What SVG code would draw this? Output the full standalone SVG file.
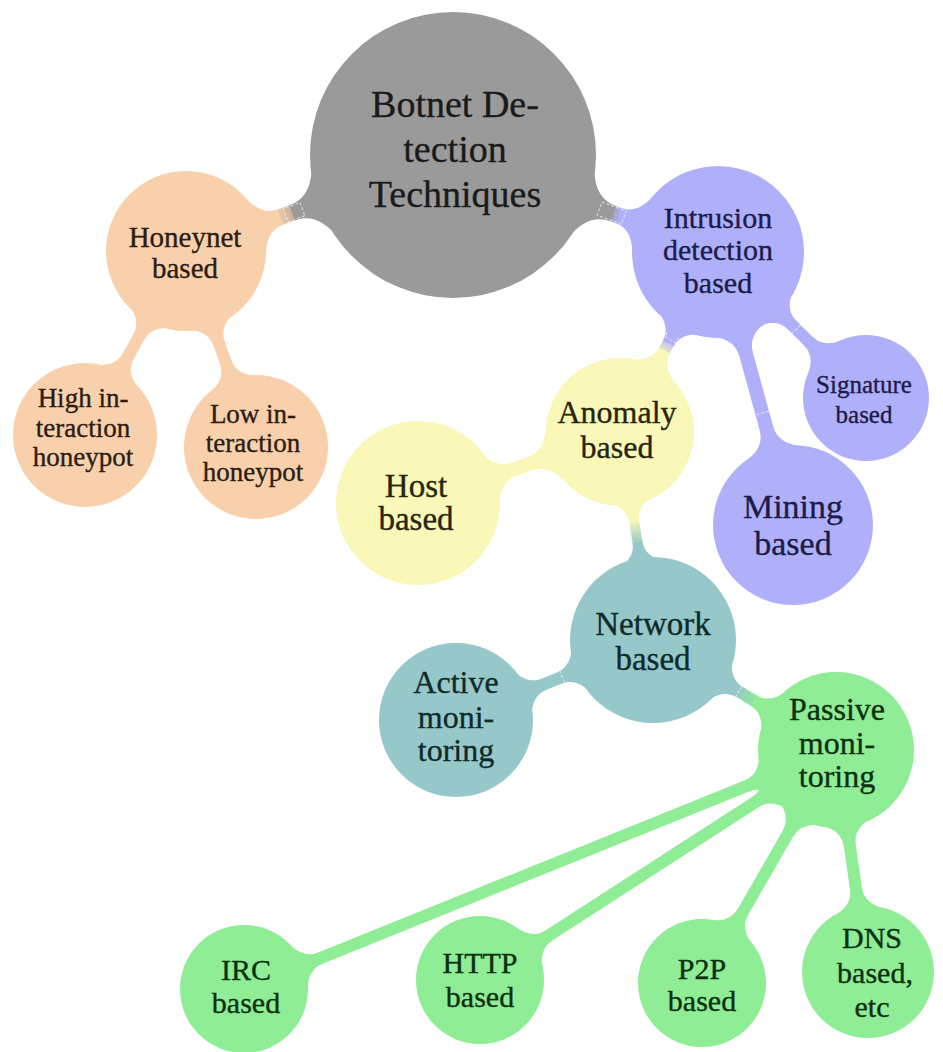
<svg xmlns="http://www.w3.org/2000/svg" width="943" height="1052" viewBox="0 0 943 1052">
<defs>
<style>
.t{font-family:"Liberation Serif","Times New Roman",serif;text-anchor:middle;stroke-width:0.35}
.gray{fill:#9a9a9a}.peach{fill:#f9d0ac}.purple{fill:#b0b0fa}.yellow{fill:#faf8b9}.teal{fill:#96c8ca}.green{fill:#8fed96}
.dash{fill:none;stroke:#fff;stroke-width:1;stroke-dasharray:3 2;opacity:.7}
</style>
<path id="fA" d="M-5,-34 C1.5,-18.4 11.2,-8 28,-8 L28,8 C11.2,8 1.5,18.4 -5,34 Z"/>
<path id="fB" d="M-5,-28 C0,-16 8,-8 20,-8 L20,8 C8,8 0,16 -5,28 Z"/>
<path id="fC" d="M-5,-24 C-0.5,-13.2 7.2,-6 18,-6 L18,6 C7.2,6 -0.5,13.2 -5,24 Z"/>
<path id="fD" d="M-5,-26 C-0.25,-14.6 8,-7 20,-7 L20,7 C8,7 -0.25,14.6 -5,26 Z"/>
<path id="fE" d="M-5,-20 C-1.25,-11 6.4,-5 16,-5 L16,5 C6.4,5 -1.25,11 -5,20 Z"/>
<linearGradient id="gRH" gradientUnits="userSpaceOnUse" x1="158" y1="0" x2="188" y2="0"><stop offset="0" stop-color="#9a9a9a"/><stop offset="1" stop-color="#f9d0ac"/></linearGradient>
<linearGradient id="gRI" gradientUnits="userSpaceOnUse" x1="156" y1="0" x2="183" y2="0"><stop offset="0" stop-color="#9a9a9a"/><stop offset="1" stop-color="#b0b0fa"/></linearGradient>
<linearGradient id="gIA" gradientUnits="userSpaceOnUse" x1="97" y1="0" x2="119" y2="0"><stop offset="0" stop-color="#b0b0fa"/><stop offset="1" stop-color="#faf8b9"/></linearGradient>
<linearGradient id="gAN" gradientUnits="userSpaceOnUse" x1="88" y1="0" x2="114" y2="0"><stop offset="0" stop-color="#faf8b9"/><stop offset="1" stop-color="#96c8ca"/></linearGradient>
<linearGradient id="gNP" gradientUnits="userSpaceOnUse" x1="96" y1="0" x2="122" y2="0"><stop offset="0" stop-color="#96c8ca"/><stop offset="1" stop-color="#8fed96"/></linearGradient>
</defs>
<rect width="943" height="1052" fill="#fff"/>
<g id="connectors">
 <g transform="translate(453,155) rotate(160.22)">
  <rect x="140" y="-8" width="66.7" height="16" fill="url(#gRH)"/>
  <use href="#fA" x="143" class="gray"/>
  <use href="#fB" transform="translate(203.7,0) scale(-1,1)" class="peach"/>
  <rect x="160" y="-7" width="18" height="14" class="dash"/>
 </g>
 <g transform="translate(453,155) rotate(20.1)">
  <rect x="140" y="-8" width="59.2" height="16" fill="url(#gRI)"/>
  <use href="#fA" x="143" class="gray"/>
  <use href="#fB" transform="translate(196.2,0) scale(-1,1)" class="purple"/>
  <rect x="156" y="-7" width="26" height="14" class="dash"/>
 </g>
 <g transform="translate(186,251) rotate(118.77)">
  <rect x="77" y="-6" width="63.9" height="12" class="peach"/>
  <use href="#fC" x="80" class="peach"/>
  <use href="#fC" transform="translate(137.9,0) scale(-1,1)" class="peach"/>
 </g>
 <g transform="translate(186,251) rotate(70.35)">
  <rect x="77" y="-6" width="62.1" height="12" class="peach"/>
  <use href="#fC" x="80" class="peach"/>
  <use href="#fC" transform="translate(136.1,0) scale(-1,1)" class="peach"/>
 </g>
 <g transform="translate(718,252) rotate(118.56)">
  <rect x="83" y="-6" width="50" height="12" fill="url(#gIA)"/>
  <use href="#fC" x="86" class="purple"/>
  <use href="#fC" transform="translate(130,0) scale(-1,1)" class="yellow"/>
  <path d="M94,-6 L100,-6 L100,6 L94,6" class="dash"/>
 </g>
 <g transform="translate(718,252) rotate(44.61)">
  <rect x="83" y="-6" width="64.9" height="12" class="purple"/>
  <use href="#fC" x="86" class="purple"/>
  <use href="#fC" transform="translate(144.9,0) scale(-1,1)" class="purple"/>
  <path d="M110,-6 L110,6" class="dash"/>
 </g>
 <g transform="translate(718,252) rotate(74.64)">
  <rect x="83" y="-7" width="123" height="14" class="purple"/>
  <use href="#fD" x="86" class="purple"/>
  <use href="#fD" transform="translate(203,0) scale(-1,1)" class="purple"/>
  <path d="M167,-7 L167,7" class="dash"/>
 </g>
 <g transform="translate(620,432) rotate(160.63)">
  <rect x="72" y="-7" width="63" height="14" class="yellow"/>
  <use href="#fD" x="75" class="yellow"/>
  <use href="#fD" transform="translate(132,0) scale(-1,1)" class="yellow"/>
 </g>
 <g transform="translate(620,432) rotate(80.98)">
  <rect x="72" y="-5" width="58.6" height="10" fill="url(#gAN)"/>
  <use href="#fE" x="75" class="yellow"/>
  <use href="#fE" transform="translate(127.6,0) scale(-1,1)" class="teal"/>
 </g>
 <g transform="translate(653,640) rotate(157.9)">
  <rect x="80" y="-6" width="58.6" height="12" class="teal"/>
  <use href="#fC" x="83" class="teal"/>
  <use href="#fC" transform="translate(135.6,0) scale(-1,1)" class="teal"/>
  <path d="M98,-6 L98,6" class="dash"/>
 </g>
 <g transform="translate(653,640) rotate(31.01)">
  <rect x="80" y="-6" width="58.5" height="12" fill="url(#gNP)"/>
  <use href="#fC" x="83" class="teal"/>
  <use href="#fC" transform="translate(135.5,0) scale(-1,1)" class="green"/>
  <path d="M100,-6 L100,6" class="dash"/>
 </g>
 <g transform="translate(836,750) rotate(158.02)">
  <rect x="75" y="-6" width="502.4" height="12" class="green"/>
  <use href="#fC" x="78" class="green"/>
  <use href="#fC" transform="translate(574.4,0) scale(-1,1)" class="green"/>
 </g>
 <g transform="translate(836,750) rotate(147.14)">
  <rect x="75" y="-6" width="287.8" height="12" class="green"/>
  <use href="#fC" x="78" class="green"/>
  <use href="#fC" transform="translate(359.8,0) scale(-1,1)" class="green"/>
 </g>
 <g transform="translate(836,750) rotate(119.9)">
  <rect x="75" y="-6" width="132.8" height="12" class="green"/>
  <use href="#fC" x="78" class="green"/>
  <use href="#fC" transform="translate(204.8,0) scale(-1,1)" class="green"/>
 </g>
 <g transform="translate(836,750) rotate(81.8)">
  <rect x="75" y="-6" width="86.3" height="12" class="green"/>
  <use href="#fC" x="78" class="green"/>
  <use href="#fC" transform="translate(158.3,0) scale(-1,1)" class="green"/>
 </g>
</g>
<g id="root">
 <circle cx="453" cy="155" r="143" class="gray"/>
 <text class="t" font-size="38" fill="#1a1a1a" stroke="#1a1a1a"><tspan x="455" y="117">Botnet De-</tspan><tspan x="455" y="162">tection</tspan><tspan x="455" y="207">Techniques</tspan></text>
</g>
<g id="honeynet">
 <circle cx="186" cy="251" r="80" class="peach"/>
 <text class="t" font-size="29" fill="#2b1d12" stroke="#2b1d12"><tspan x="185" y="247">Honeynet</tspan><tspan x="185" y="278">based</tspan></text>
</g>
<g id="high">
 <circle cx="85" cy="435" r="72" class="peach"/>
 <text class="t" font-size="27" fill="#2b1d12" stroke="#2b1d12"><tspan x="83" y="407">High in-</tspan><tspan x="83" y="437">teraction</tspan><tspan x="83" y="466">honeypot</tspan></text>
</g>
<g id="low">
 <circle cx="256" cy="447" r="72" class="peach"/>
 <text class="t" font-size="27" fill="#2b1d12" stroke="#2b1d12"><tspan x="253" y="423">Low in-</tspan><tspan x="253" y="452">teraction</tspan><tspan x="253" y="481">honeypot</tspan></text>
</g>
<g id="intrusion">
 <circle cx="718" cy="252" r="86" class="purple"/>
 <text class="t" font-size="30" fill="#1c1c48" stroke="#1c1c48"><tspan x="718" y="228">Intrusion</tspan><tspan x="718" y="260">detection</tspan><tspan x="718" y="293">based</tspan></text>
</g>
<g id="signature">
 <circle cx="866" cy="398" r="63" class="purple"/>
 <text class="t" font-size="25" fill="#1c1c48" stroke="#1c1c48"><tspan x="864" y="393">Signature</tspan><tspan x="864" y="423">based</tspan></text>
</g>
<g id="mining">
 <circle cx="793" cy="525" r="80" class="purple"/>
 <text class="t" font-size="34" fill="#1c1c48" stroke="#1c1c48"><tspan x="793" y="518">Mining</tspan><tspan x="793" y="555">based</tspan></text>
</g>
<g id="anomaly">
 <circle cx="620" cy="432" r="74" class="yellow"/>
 <text class="t" font-size="32" fill="#26260f" stroke="#26260f"><tspan x="617" y="423">Anomaly</tspan><tspan x="617" y="458">based</tspan></text>
</g>
<g id="host">
 <circle cx="418" cy="503" r="82" class="yellow"/>
 <text class="t" font-size="33" fill="#26260f" stroke="#26260f"><tspan x="416" y="497">Host</tspan><tspan x="416" y="530">based</tspan></text>
</g>
<g id="network">
 <circle cx="653" cy="640" r="83" class="teal"/>
 <text class="t" font-size="33" fill="#0f2a2a" stroke="#0f2a2a"><tspan x="653" y="635">Network</tspan><tspan x="653" y="670">based</tspan></text>
</g>
<g id="active">
 <circle cx="456" cy="720" r="77" class="teal"/>
 <text class="t" font-size="32" fill="#0f2a2a" stroke="#0f2a2a"><tspan x="456" y="693">Active</tspan><tspan x="456" y="728">moni-</tspan><tspan x="456" y="761">toring</tspan></text>
</g>
<g id="passive">
 <circle cx="836" cy="750" r="78" class="green"/>
 <text class="t" font-size="32" fill="#0d300f" stroke="#0d300f"><tspan x="837" y="720">Passive</tspan><tspan x="837" y="754">moni-</tspan><tspan x="837" y="787">toring</tspan></text>
</g>
<g id="irc">
 <circle cx="244" cy="989" r="64" class="green"/>
 <text class="t" font-size="30" fill="#0d300f" stroke="#0d300f"><tspan x="246" y="980">IRC</tspan><tspan x="246" y="1013">based</tspan></text>
</g>
<g id="http">
 <circle cx="480" cy="980" r="64" class="green"/>
 <text class="t" font-size="30" fill="#0d300f" stroke="#0d300f"><tspan x="480" y="973">HTTP</tspan><tspan x="480" y="1007">based</tspan></text>
</g>
<g id="p2p">
 <circle cx="702" cy="983" r="64" class="green"/>
 <text class="t" font-size="30" fill="#0d300f" stroke="#0d300f"><tspan x="702" y="979">P2P</tspan><tspan x="702" y="1011">based</tspan></text>
</g>
<g id="dns">
 <circle cx="868" cy="972" r="66" class="green"/>
 <text class="t" font-size="30" fill="#0d300f" stroke="#0d300f"><tspan x="872" y="948">DNS</tspan><tspan x="875" y="983">based,</tspan><tspan x="872" y="1017">etc</tspan></text>
</g>
</svg>
